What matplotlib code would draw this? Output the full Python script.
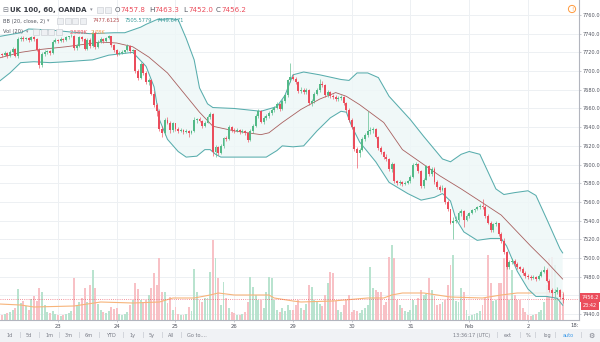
import numpy as np
import matplotlib
matplotlib.use("Agg")
import matplotlib.pyplot as plt
from matplotlib.patches import Rectangle, Circle
from matplotlib.transforms import blended_transform_factory, IdentityTransform

# hourly bars UK 100 (OANDA), 22 bars a session, Jan 22 00:00 .. Feb 2 13:00 UTC
opens = [
    7716, 7718, 7717, 7719, 7716, 7720, 7724, 7716, 7734, 7735, 7734, 7735, 7733, 7736, 7734, 7723, 7706, 7718, 7720, 7721, 7719, 7731,
    7733, 7732, 7734, 7733, 7736, 7737, 7738, 7725, 7727, 7736, 7734, 7724, 7733, 7727, 7741, 7726, 7731, 7734, 7732, 7735, 7737, 7728,
    7722, 7718, 7719, 7720, 7722, 7727, 7721, 7722, 7700, 7693, 7708, 7698, 7688, 7690, 7676, 7664, 7657, 7638, 7634, 7648, 7645, 7637,
    7644, 7638, 7636, 7637, 7635, 7636, 7634, 7636, 7648, 7649, 7647, 7641, 7645, 7651, 7654, 7613, 7619, 7612, 7620, 7628, 7627, 7640,
    7637, 7636, 7637, 7635, 7636, 7634, 7626, 7636, 7641, 7652, 7657, 7646, 7650, 7652, 7655, 7658, 7661, 7665, 7659, 7668, 7674, 7690,
    7694, 7692, 7688, 7679, 7680, 7678, 7680, 7666, 7668, 7676, 7680, 7686, 7685, 7674, 7678, 7673, 7672, 7670, 7671, 7672, 7666, 7658,
    7648, 7640, 7617, 7612, 7616, 7627, 7632, 7636, 7637, 7638, 7630, 7618, 7613, 7608, 7606, 7595, 7601, 7582, 7580, 7581, 7579, 7580,
    7582, 7587, 7600, 7601, 7593, 7577, 7584, 7598, 7590, 7595, 7581, 7576, 7573, 7575, 7560, 7552, 7538, 7540, 7541, 7548, 7550, 7541,
    7545, 7548, 7551, 7553, 7555, 7556, 7555, 7545, 7538, 7530, 7536, 7537, 7526, 7518, 7506, 7490, 7496, 7497, 7494, 7490, 7488, 7484,
    7481, 7480, 7479, 7480, 7478, 7481, 7485, 7487, 7476, 7466, 7463, 7464, 7466, 7457.8,
]
highs = [
    7720, 7719, 7721, 7720, 7722, 7726, 7725, 7736, 7737, 7737, 7736, 7736, 7738, 7737, 7735, 7725, 7720, 7722, 7723, 7722, 7733, 7735,
    7734, 7736, 7735, 7737, 7738, 7740, 7739, 7729, 7738, 7738, 7735, 7735, 7735, 7744, 7743, 7733, 7736, 7735, 7736, 7739, 7738, 7729,
    7724, 7721, 7722, 7723, 7729, 7728, 7724, 7723, 7702, 7710, 7709, 7700, 7693, 7692, 7679, 7666, 7659, 7641, 7650, 7651, 7647, 7646,
    7645, 7640, 7639, 7638, 7638, 7637, 7637, 7651, 7650, 7651, 7648, 7647, 7653, 7656, 7655, 7621, 7620, 7622, 7630, 7631, 7642, 7641,
    7639, 7639, 7638, 7638, 7637, 7635, 7638, 7643, 7654, 7659, 7658, 7652, 7654, 7657, 7660, 7663, 7667, 7666, 7670, 7676, 7692, 7709,
    7697, 7694, 7689, 7683, 7682, 7682, 7681, 7670, 7678, 7682, 7692, 7689, 7686, 7680, 7679, 7676, 7674, 7673, 7674, 7673, 7667, 7660,
    7650, 7641, 7619, 7618, 7629, 7634, 7657, 7640, 7640, 7639, 7631, 7620, 7615, 7611, 7607, 7603, 7602, 7584, 7583, 7582, 7582, 7584,
    7589, 7602, 7603, 7602, 7594, 7586, 7600, 7600, 7597, 7597, 7583, 7578, 7578, 7576, 7562, 7553, 7544, 7545, 7550, 7552, 7551, 7547,
    7549, 7552, 7554, 7556, 7558, 7563, 7557, 7547, 7540, 7538, 7540, 7538, 7528, 7521, 7508, 7498, 7500, 7499, 7496, 7492, 7490, 7486,
    7483, 7482, 7482, 7481, 7483, 7487, 7492, 7489, 7478, 7468, 7467, 7469, 7467, 7463.3,
]
lows = [
    7714, 7715, 7716, 7714, 7715, 7719, 7715, 7714, 7732, 7732, 7733, 7731, 7732, 7732, 7721, 7703, 7704, 7716, 7718, 7717, 7718, 7730,
    7730, 7731, 7731, 7732, 7734, 7736, 7723, 7722, 7726, 7732, 7722, 7722, 7725, 7726, 7724, 7725, 7730, 7730, 7731, 7734, 7726, 7720,
    7716, 7717, 7718, 7719, 7721, 7719, 7719, 7698, 7690, 7691, 7696, 7686, 7685, 7674, 7662, 7652, 7636, 7630, 7632, 7643, 7634, 7635,
    7636, 7634, 7635, 7633, 7634, 7630, 7633, 7635, 7645, 7646, 7639, 7640, 7644, 7649, 7609, 7608, 7610, 7611, 7618, 7625, 7626, 7635,
    7634, 7635, 7633, 7634, 7632, 7624, 7625, 7634, 7640, 7650, 7644, 7643, 7648, 7650, 7653, 7656, 7659, 7657, 7658, 7666, 7672, 7688,
    7690, 7686, 7677, 7677, 7676, 7676, 7664, 7663, 7666, 7674, 7678, 7683, 7672, 7672, 7671, 7670, 7668, 7668, 7669, 7664, 7656, 7646,
    7638, 7615, 7596, 7608, 7614, 7625, 7630, 7633, 7634, 7628, 7616, 7611, 7606, 7604, 7593, 7592, 7580, 7578, 7578, 7577, 7578, 7579,
    7580, 7586, 7598, 7591, 7575, 7575, 7583, 7588, 7588, 7579, 7574, 7571, 7572, 7558, 7550, 7536, 7520, 7537, 7539, 7545, 7533, 7540,
    7543, 7547, 7549, 7551, 7553, 7553, 7543, 7536, 7528, 7528, 7534, 7524, 7516, 7504, 7488, 7488, 7494, 7492, 7488, 7486, 7482, 7479,
    7478, 7477, 7478, 7476, 7477, 7480, 7484, 7474, 7464, 7458, 7458, 7462, 7456, 7452.0,
]
closes = [
    7718, 7717, 7719, 7716, 7720, 7724, 7716, 7734, 7735, 7734, 7735, 7733, 7736, 7734, 7723, 7706, 7718, 7720, 7721, 7719, 7731, 7733,
    7732, 7734, 7733, 7736, 7737, 7738, 7725, 7727, 7736, 7734, 7724, 7733, 7727, 7741, 7726, 7731, 7734, 7732, 7735, 7737, 7728, 7722,
    7718, 7719, 7720, 7722, 7727, 7721, 7722, 7700, 7693, 7708, 7698, 7688, 7690, 7676, 7664, 7657, 7638, 7634, 7648, 7645, 7637, 7644,
    7638, 7636, 7637, 7635, 7636, 7634, 7636, 7648, 7649, 7647, 7641, 7645, 7651, 7654, 7613, 7619, 7612, 7620, 7628, 7627, 7640, 7637,
    7636, 7637, 7635, 7636, 7634, 7626, 7636, 7641, 7652, 7657, 7646, 7650, 7652, 7655, 7658, 7661, 7665, 7659, 7668, 7674, 7690, 7694,
    7692, 7688, 7679, 7680, 7678, 7680, 7666, 7668, 7676, 7680, 7686, 7685, 7674, 7678, 7673, 7672, 7670, 7671, 7672, 7666, 7658, 7648,
    7640, 7617, 7612, 7616, 7627, 7632, 7636, 7637, 7638, 7630, 7618, 7613, 7608, 7606, 7595, 7601, 7582, 7580, 7581, 7579, 7580, 7582,
    7587, 7600, 7601, 7593, 7577, 7584, 7598, 7590, 7595, 7581, 7576, 7573, 7575, 7560, 7552, 7538, 7540, 7541, 7548, 7550, 7541, 7545,
    7548, 7551, 7553, 7555, 7556, 7555, 7545, 7538, 7530, 7536, 7537, 7526, 7518, 7506, 7490, 7496, 7497, 7494, 7490, 7488, 7484, 7481,
    7480, 7479, 7480, 7478, 7481, 7485, 7487, 7476, 7466, 7463, 7464, 7466, 7458, 7456.2,
]
# volume in thousands
volumes = [
    0.6, 0.5, 0.6, 0.7, 0.8, 1.0, 1.2, 3.1, 1.7, 1.9, 1.4, 1.0, 2.1, 2.4, 1.9, 3.2, 2.8, 1.5, 0.8, 0.7, 0.9, 0.6,
    0.5, 0.4, 0.5, 0.6, 0.7, 0.9, 4.2, 1.5, 1.8, 2.2, 3.2, 1.8, 3.5, 5.0, 3.2, 1.6, 1.0, 0.8, 0.7, 0.9, 1.3, 1.1,
    1.2, 0.6, 0.5, 0.6, 0.8, 1.5, 2.0, 3.7, 3.1, 2.0, 1.8, 2.0, 2.5, 3.2, 4.7, 3.5, 6.2, 2.8, 2.8, 1.7, 2.3, 1.0,
    1.3, 0.6, 0.5, 0.5, 0.6, 1.3, 0.9, 5.1, 2.8, 2.0, 1.8, 2.2, 2.2, 4.8, 8.0, 6.2, 4.2, 1.5, 3.8, 2.2, 1.2, 0.8,
    0.7, 0.5, 0.5, 0.6, 0.8, 1.8, 4.3, 3.3, 2.5, 2.0, 2.0, 1.2, 2.8, 4.3, 4.2, 2.0, 1.0, 0.8, 1.2, 0.9, 1.5, 1.0,
    1.0, 1.5, 2.0, 1.2, 1.0, 1.6, 3.5, 3.3, 2.0, 1.8, 1.6, 1.4, 2.5, 3.7, 4.8, 4.7, 1.9, 1.0, 0.8, 1.5, 2.0, 2.5,
    0.8, 1.0, 0.9, 0.7, 1.0, 1.2, 1.5, 5.3, 3.2, 3.0, 2.8, 2.8, 1.5, 1.8, 6.3, 7.5, 6.2, 2.0, 1.5, 1.2, 0.9, 0.8,
    1.0, 2.0, 1.5, 2.2, 3.0, 2.5, 2.6, 4.2, 3.0, 2.4, 1.5, 1.6, 1.8, 2.0, 3.5, 5.5, 6.5, 1.9, 1.8, 3.2, 2.8, 1.0,
    0.4, 0.5, 0.6, 0.7, 0.9, 1.5, 2.2, 6.5, 3.7, 1.9, 2.0, 3.7, 3.7, 6.2, 5.5, 2.0, 5.0, 2.5, 2.0, 2.0, 1.2, 0.8,
    0.5, 0.4, 0.5, 0.6, 0.8, 1.0, 1.8, 3.5, 6.2, 6.3, 5.5, 3.3, 3.0, 2.589,
]

# Bollinger bands (20, close, 2) at these bars
upper_bars = [0, 8, 11, 19, 26, 34, 43, 47, 50, 53, 55, 59, 64, 67, 70, 73, 75, 78, 80, 88, 98, 104, 107, 110,
              114, 120, 128, 131, 134, 138, 142, 146, 154, 159, 166, 169, 173, 176, 180, 186, 189, 193, 198, 201,
              205, 210, 211]
upper_vals = [7737, 7741, 7745, 7744, 7742, 7740, 7741, 7741, 7744, 7747, 7750, 7755, 7756, 7755, 7735, 7712, 7682,
              7665, 7661, 7660, 7657, 7662, 7674, 7696, 7699, 7696, 7691, 7690, 7698, 7698, 7693, 7673, 7648, 7630,
              7606, 7603, 7611, 7614, 7611, 7574, 7568, 7570, 7572, 7567, 7542, 7510, 7505.58]
basis_bars = [0, 8, 15, 25, 38, 44, 50, 56, 63, 69, 75, 80, 88, 98, 101, 106, 113, 120, 126, 130, 135, 144, 151,
              156, 165, 173, 180, 188, 192, 199, 205, 211]
basis_vals = [7714, 7720, 7723, 7726, 7731, 7730, 7726, 7715, 7698, 7677, 7656, 7641, 7636, 7632, 7634, 7645, 7659,
              7670, 7677, 7673, 7664, 7645, 7616, 7606, 7588, 7574, 7561, 7546, 7534, 7513, 7496, 7477.61]
lower_bars = [0, 4, 8, 13, 19, 25, 35, 41, 50, 55, 58, 60, 63, 67, 70, 74, 77, 79, 81, 83, 88, 100, 104, 106, 110,
              114, 119, 124, 128, 130, 132, 135, 141, 146, 153, 158, 163, 166, 169, 171, 174, 179, 184, 188, 190,
              194, 198, 201, 205, 209, 211]
lower_vals = [7689, 7698, 7709, 7710, 7709, 7710, 7712, 7717, 7720, 7705, 7683, 7648, 7627, 7614, 7608, 7609, 7616,
              7616, 7611, 7608, 7608, 7608, 7615, 7620, 7619, 7620, 7636, 7650, 7657, 7656, 7641, 7624, 7603, 7581,
              7569, 7562, 7565, 7569, 7561, 7542, 7528, 7519, 7521, 7521, 7513, 7486, 7467, 7459, 7459, 7457, 7449.65]
# volume MA(20)
ma_bars = [0, 8, 13, 28, 38, 50, 60, 65, 73, 79, 82, 88, 94, 101, 103, 110, 113, 125, 138, 144, 147, 151, 159,
           169, 181, 188, 194, 206, 211]
ma_vals = [1.6, 1.5, 1.3, 1.4, 1.8, 1.7, 1.8, 2.2, 2.2, 2.5, 2.7, 2.5, 2.5, 2.5, 2.2, 1.9, 1.8, 1.9, 2.2, 2.2,
           2.5, 2.7, 2.7, 2.3, 2.2, 2.5, 2.7, 2.7, 2.78]

bars_per_day = 22
day_labels = ["23", "24", "25", "26", "29", "30", "31", "Feb", "2"]
price_ticks = list(range(7440, 7761, 20))
last_price = 7456.2

UP, DOWN = "#53b987", "#eb4d5c"
VOL_UP, VOL_DN = "#b9e3cf", "#f8c1c6"
BB_LINE, BB_BASIS, BB_FILL = "#58adad", "#a8605f", "#eef7f7"
MA_COL = "#f7b47a"
GRID = "#edf0f3"
AXIS = "#b2b5be"
TXT = "#50535e"

W, H = 600, 342
def fx(x):
    return x / W
def fy(y):
    return 1 - y / H

o = np.array(opens); h = np.array(highs); l = np.array(lows); c = np.array(closes)
idx = np.arange(len(c))
up = c >= o

fig = plt.figure(figsize=(6, 3.42), dpi=100)
rect = [0, fy(320), 579 / W, 320 / H]
axv = fig.add_axes(rect)
ax = fig.add_axes(rect, sharex=axv)
ax.patch.set_alpha(0)

# grid (drawn on the bottom axes, behind volume)
day_ticks = [bars_per_day * (i + 1) for i in range(len(day_labels))]
tr = blended_transform_factory(axv.transAxes, ax.transData)
for d in day_ticks:
    axv.axvline(d, color=GRID, lw=0.7, zorder=0)
for p in price_ticks:
    axv.plot([0, 1], [p, p], transform=tr, color=GRID, lw=0.7, zorder=0)

# volume
axv.bar(idx, volumes, width=0.72, color=np.where(up, VOL_UP, VOL_DN), zorder=2)
axv.plot(ma_bars, ma_vals, color=MA_COL, lw=0.8, zorder=3)

# bollinger bands
ax.fill(np.r_[upper_bars, lower_bars[::-1]], np.r_[upper_vals, lower_vals[::-1]],
        color=BB_FILL, lw=0, alpha=0.85, zorder=1)
ax.plot(upper_bars, upper_vals, color=BB_LINE, lw=0.75, zorder=2)
ax.plot(lower_bars, lower_vals, color=BB_LINE, lw=0.75, zorder=2)
ax.plot(basis_bars, basis_vals, color=BB_BASIS, lw=0.6, zorder=2)

# candles
cols = np.where(up, UP, DOWN)
ax.vlines(idx, l, h, colors=cols, lw=0.45, zorder=3)
ax.bar(idx, np.maximum(np.abs(c - o), 0.6), bottom=np.minimum(o, c), width=0.72,
       color=cols, zorder=4)
ax.axhline(last_price, color=DOWN, lw=0.6, ls=(0, (1, 1.6)), alpha=0.8, zorder=5)

axv.set_xlim(0.28, 217.13)
axv.set_ylim(0, 32)
ax.set_ylim(7433.8, 7776.0)

for s in axv.spines.values():
    s.set_visible(False)
axv.tick_params(bottom=False, labelbottom=False, left=False, labelleft=False)
for s in ["top", "left"]:
    ax.spines[s].set_visible(False)
for s in ["bottom", "right"]:
    ax.spines[s].set_color(AXIS)
    ax.spines[s].set_linewidth(0.8)

ax.yaxis.tick_right()
ax.set_yticks(price_ticks)
ax.set_yticklabels([f"{p:.1f}" for p in price_ticks])
ax.tick_params(axis="y", length=1.5, width=0.5, color=AXIS, labelsize=3.6, labelcolor=TXT, pad=1)
ax.set_xticks(day_ticks)
ax.set_xticklabels(day_labels)
ax.tick_params(axis="x", length=1.5, width=0.5, color=AXIS, labelsize=3.8, labelcolor=TXT, pad=1.2)
fig.text(fx(575), fy(325.5), "18:", fontsize=3.8, color=TXT, ha="center", va="center")

# price / countdown labels on the scale
fig.text(fx(590), fy(297.5), "7456.2", fontsize=3.6, color="white", ha="center", va="center",
         bbox=dict(boxstyle="square,pad=0.35", fc=DOWN, ec="none"))
fig.text(fx(590), fy(305.5), "23:42", fontsize=3.6, color="white", ha="center", va="center",
         bbox=dict(boxstyle="square,pad=0.35", fc=DOWN, ec="none"))

# legend block
def icon_row(x0, y0, n):
    for i in range(n):
        fig.add_artist(Rectangle((x0 + i * 7.5, H - y0 - 6), 6, 6, transform=IdentityTransform(),
                                 fc="#eef0f3", ec="#c5c8ce", lw=0.4))

fig.text(fx(2), fy(10), "\u229f", fontsize=5, color="#777a84", va="center")
fig.text(fx(10), fy(10), "UK 100, 60, OANDA", fontsize=5.0, color="#3a3d45", weight="bold", va="center")
fig.text(fx(90), fy(10), "\u25be", fontsize=3.8, color="#8a8d96", va="center")
icon_row(97, 7, 2)
for x, k, v in [(115, "O", "7457.8"), (149, "H", "7463.3"), (183, "L", "7452.0"), (216, "C", "7456.2")]:
    fig.text(fx(x), fy(10), k, fontsize=5.1, color="#555862", va="center")
    fig.text(fx(x + 5.5), fy(10), v, fontsize=5.1, color=DOWN, va="center")

fig.text(fx(3), fy(21), "BB (20, close, 2)", fontsize=3.7, color="#555862", va="center")
fig.text(fx(47), fy(21), "\u25be", fontsize=3.4, color="#8a8d96", va="center")
icon_row(57, 18, 4)
fig.text(fx(93), fy(21), "7477.6125", fontsize=3.7, color="#b24d4f", va="center")
fig.text(fx(125), fy(21), "7505.5779", fontsize=3.7, color="#3b9a9a", va="center")
fig.text(fx(157), fy(21), "7449.6471", fontsize=3.7, color="#3b9a9a", va="center")

fig.text(fx(3), fy(32), "Vol (20)", fontsize=3.7, color="#555862", va="center")
fig.text(fx(26), fy(32), "\u25be", fontsize=3.4, color="#8a8d96", va="center")
icon_row(33, 29, 4)
fig.text(fx(70), fy(32), "2.589K", fontsize=3.7, color=DOWN, va="center")
fig.text(fx(91), fy(32), "2.78K", fontsize=3.7, color="#f39c4a", va="center")

# warning icon top right
fig.add_artist(Circle((572, H - 9), 3.6, transform=IdentityTransform(), fc="white", ec="#ff9a3c", lw=0.7))
fig.text(fx(572), fy(9.3), "!", fontsize=4, color="#ff9a3c", ha="center", va="center")

# bottom toolbar
fig.add_artist(Rectangle((0, 0), 1, 13 / H, transform=fig.transFigure, fc="#f0f2f5", ec="none"))
for x, t in zip([10, 29, 49, 69, 89, 111, 133, 152, 171],
                ["1d", "5d", "1m", "3m", "6m", "YTD", "1y", "5y", "All"]):
    fig.text(fx(x), fy(335.5), t, fontsize=3.6, color="#787b86", ha="center", va="center")
fig.text(fx(187), fy(335.5), "Go to....", fontsize=3.6, color="#787b86", va="center")
for x, t, col in [(472, "13:36:17 (UTC)", "#787b86"), (508, "ext", "#787b86"), (528, "%", "#787b86"),
                  (547, "log", "#787b86"), (568, "auto", "#3d9ae8")]:
    fig.text(fx(x), fy(335.5), t, fontsize=3.6, color=col, ha="center", va="center")
fig.text(fx(591), fy(335.5), "\u2699", fontsize=5, color="#787b86", ha="center", va="center")
for x in [20, 39, 59, 79, 99, 123, 143, 162, 181, 497, 520, 535, 555, 581]:
    fig.add_artist(Rectangle((x, 4), 0.6, 6, transform=IdentityTransform(), fc="#d3d6dc", ec="none"))

fig.savefig("out.png", dpi=100)
